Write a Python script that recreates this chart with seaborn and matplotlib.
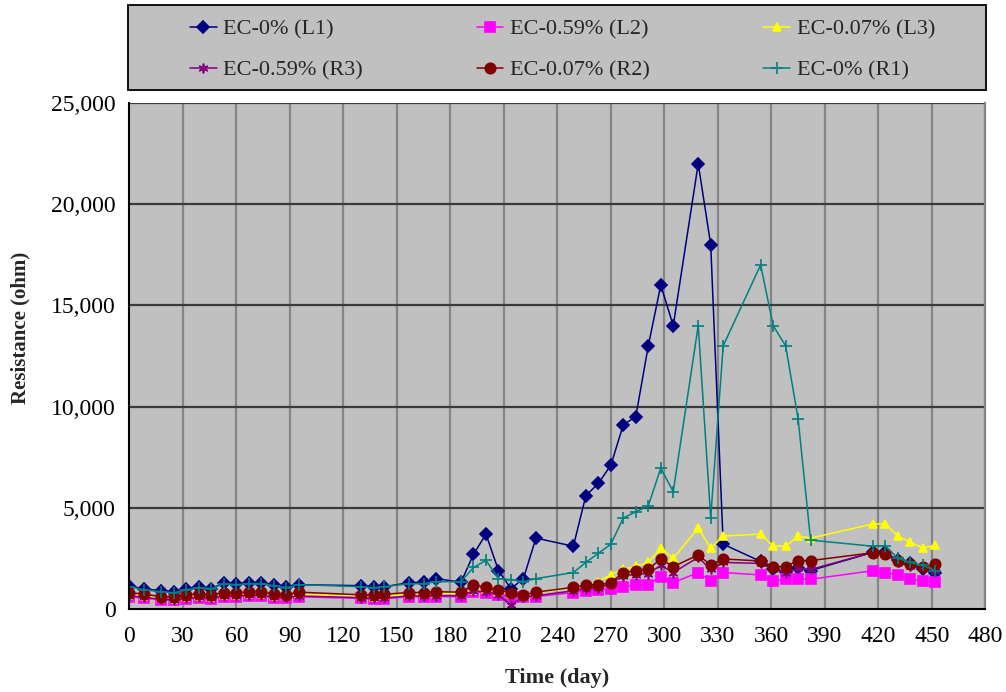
import matplotlib
matplotlib.use("Agg")
import matplotlib.pyplot as plt
import matplotlib.ticker as mticker
from matplotlib.patches import Rectangle
import seaborn as sns
import pandas as pd

days = [0, 8, 18, 25, 32, 39, 46, 53, 60, 67, 74, 81, 88, 95, 130, 137, 143, 157,
        165, 172, 186, 193, 200, 207, 214, 221, 228, 249, 256, 263, 270, 277, 284,
        291, 298, 305, 319, 326, 333, 354, 361, 368, 375, 382, 417, 424, 431, 438,
        445, 452]

ec0_l1 = [1150, 1000, 900, 850, 1000, 1100, 1000, 1300, 1250, 1300, 1300, 1200, 1100, 1200,
          1150, 1100, 1100, 1300, 1320, 1500, 1320, 2700, 3700, 1900, 1000, 1500, 3500,
          3100, 5600, 6200, 7100, 9100, 9500, 13000, 16000, 14000, 22000, 18000, 3200,
          2350, 1950, 1850, 2000, 1900, 2800, 2800, 2400, 2250, 1950, 1800]
ec059_l2 = [600, 540, 450, 430, 490, 530, 500, 600, 600, 630, 630, 560, 530, 600,
            520, 480, 500, 610, 590, 610, 610, 850, 810, 690, 610, 610, 610,
            810, 900, 960, 970, 1100, 1190, 1190, 1600, 1300, 1800, 1380, 1800,
            1680, 1380, 1470, 1470, 1470, 1890, 1800, 1680, 1470, 1380, 1350]
ec007_l3 = [700, 640, 530, 510, 600, 650, 600, 710, 710, 740, 740, 650, 620, 720,
            620, 580, 620, 720, 720, 760, 780, 950, 950, 850, 750, 720, 800,
            1050, 1200, 1350, 1700, 1950, 2100, 2300, 3000, 2500, 4000, 3000, 3600,
            3700, 3100, 3100, 3600, 3500, 4200, 4200, 3600, 3300, 3000, 3150]
ec059_r3 = [650, 580, 480, 460, 530, 570, 540, 650, 650, 680, 680, 600, 570, 640,
            560, 520, 540, 650, 640, 660, 650, 900, 850, 700, 200, 600, 650,
            900, 1000, 1050, 1250, 1650, 1700, 1750, 2150, 1800, 2550, 1950, 2300,
            2250, 1950, 1800, 2000, 1950, 2800, 2700, 2300, 2100, 2000, 1900]
ec007_r2 = [810, 730, 610, 590, 700, 750, 690, 810, 810, 840, 840, 730, 700, 830,
            700, 670, 730, 810, 810, 850, 830, 1190, 1070, 940, 780, 700, 830,
            1070, 1190, 1190, 1300, 1800, 1890, 1960, 2470, 2090, 2670, 2170, 2470,
            2370, 2090, 2090, 2390, 2390, 2780, 2700, 2390, 2210, 2090, 2210]
ec0_r1 = [1100, 950, 850, 800, 950, 1050, 1000, 1250, 1200, 1250, 1250, 1150, 1050, 1200,
          1100, 1050, 1100, 1250, 1250, 1350, 1350, 2050, 2400, 1500, 1450, 1350, 1500,
          1800, 2300, 2750, 3200, 4500, 4800, 5100, 6950, 5800, 14000, 4500, 13000,
          17000, 14000, 13000, 9400, 3400, 3100, 3100, 2500, 2300, 2150, 1900]

series = [
    ("EC-0% (L1)", ec0_l1, "#000080", "D", 6.5),
    ("EC-0.59% (L2)", ec059_l2, "#ff00ff", "s", 7),
    ("EC-0.07% (L3)", ec007_l3, "#ffff00", "^", 6),
    ("EC-0.59% (R3)", ec059_r3, "#800080", (6, 2, 0), 7),
    ("EC-0.07% (R2)", ec007_r2, "#800000", "o", 7.5),
    ("EC-0% (R1)", ec0_r1, "#008080", "+", 8),
]

sns.set_style("white")
plt.rcParams["font.family"] = ["Liberation Serif", "DejaVu Serif"]

fig = plt.figure(figsize=(10.06, 6.92), dpi=100)
ax = fig.add_axes([0.1285, 0.12, 0.851, 0.7312])
ax.set_facecolor("#c0c0c0")

handles = {}
for name, vals, col, mk, ms in series:
    df = pd.DataFrame({"day": days, "ohm": vals})
    sns.lineplot(data=df, x="day", y="ohm", ax=ax, color=col, marker=mk,
                 markersize=ms, markeredgecolor=col, markerfacecolor=col,
                 markeredgewidth=1.2, linewidth=1.1, label=name, legend=False)
    handles[name] = ax.lines[-1]

ax.set_xlim(0, 480)
ax.set_ylim(0, 25000)
ax.set_xticks(range(0, 481, 30))
ax.set_yticks(range(0, 25001, 5000))
ax.yaxis.set_major_formatter(mticker.FuncFormatter(lambda v, p: f"{int(v):,}"))
ax.grid(False)
for y in range(5000, 25001, 5000):
    ax.axhline(y, color="#3a3a3a", linewidth=1.6, zorder=0.5)
for x in range(30, 481, 30):
    ax.axvline(x, color="#858585", linewidth=1.6, zorder=0.4)

for s in ["left", "bottom"]:
    ax.spines[s].set_color("black")
    ax.spines[s].set_linewidth(1.5)
ax.spines["top"].set_visible(False)
ax.spines["right"].set_color("#858585")
ax.spines["right"].set_linewidth(1.6)

ax.tick_params(axis="both", direction="out", length=5, width=1.2, colors="black",
               labelsize=17, pad=5)
ax.tick_params(axis="x", pad=7)
ax.set_xlabel("Time (day)", fontsize=16, fontweight="bold")
ax.set_ylabel("Resistance (ohm)", fontsize=15, fontweight="bold")
ax.xaxis.set_label_coords(0.5, -0.116)
ax.yaxis.set_label_coords(-0.1155, 0.555)

# legend box drawn separately so entries can sit inset like the original
fig.patches.append(Rectangle((128 / 1006, 1 - 90 / 692), 858 / 1006, 85 / 692,
                             transform=fig.transFigure, facecolor="#c0c0c0",
                             edgecolor="black", linewidth=1.3, zorder=1))

order = ["EC-0% (L1)", "EC-0.59% (R3)", "EC-0.59% (L2)", "EC-0.07% (R2)",
         "EC-0.07% (L3)", "EC-0% (R1)"]
leg = fig.legend([handles[n] for n in order], order, ncol=3, mode="expand",
                 bbox_to_anchor=(190 / 1006, 1 - 19 / 692, 745 / 1006, 0),
                 loc="upper left", fontsize=16, frameon=False, borderaxespad=0,
                 borderpad=0, handlelength=1.2, handletextpad=0.3,
                 labelspacing=0.93)

fig.savefig("out.png", dpi=100)
